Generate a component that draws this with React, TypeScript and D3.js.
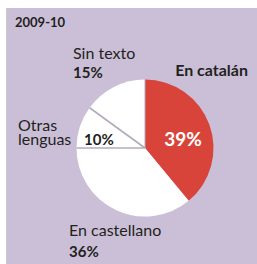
import React from "react";
import * as d3 from "d3";

const title = "2009-10";
const categories = ["En catalán", "En castellano", "Otras lenguas", "Sin texto"];
const values = [39, 36, 10, 15];
const colors = ["#d9443a", "#ffffff", "#ffffff", "#ffffff"];

export default function App() {
  const W = 257, H = 264;
  const cx = 145, cy = 148, r = 68.5;
  const pie = d3.pie<number>().sort(null).value((d) => d)(values);
  const arc = d3.arc<d3.PieArcDatum<number>>().innerRadius(0).outerRadius(r);
  const font = "Lato, 'Open Sans', sans-serif";
  const ink = "#231f20";
  return (
    <svg width={W} height={H} style={{ position: "absolute", left: 0, top: 0 }} fontFamily={font}>
      <rect x={0} y={0} width={W} height={H} fill="#ffffff" />
      <rect x={7} y={8} width={W - 7} height={H - 8} fill="#cbbfd8" />
      <line x1={6.5} y1={8} x2={6.5} y2={H} stroke="#c8c8c8" strokeWidth={1} />
      <text x={15} y={27} fontSize={13} fontWeight={700} fill={ink}>{title}</text>
      <g transform={`translate(${cx},${cy})`}>
        {pie.map((p, i) => (
          <path key={i} d={arc(p) || ""} fill={colors[i]} />
        ))}
        {pie.map((p, i) => {
          if (i === 0 || i === 1) return null;
          const a = p.startAngle;
          return (
            <line key={"l" + i} x1={0} y1={0} x2={r * Math.sin(a)} y2={-r * Math.cos(a)} stroke="#b3aabb" strokeWidth={1.6} />
          );
        })}
        <line x1={0} y1={0} x2={0} y2={-r} stroke="#b3aabb" strokeWidth={1} />
      </g>
      <text x={73} y={58.5} fontSize={16} fill={ink}>Sin texto</text>
      <text x={73} y={77.5} fontSize={15} fontWeight={700} fill={ink}>{values[3]}%</text>
      <text x={248} y={76} fontSize={16} fontWeight={700} fill={ink} textAnchor="end">{categories[0]}</text>
      <text x={18} y={130.5} fontSize={16} fill={ink}>Otras</text>
      <text x={18} y={144.5} fontSize={16} fill={ink}>lenguas</text>
      <text x={84} y={144.5} fontSize={15} fontWeight={700} fill={ink}>{values[2]}%</text>
      <text x={183} y={146} fontSize={19} fontWeight={700} fill="#ffffff" textAnchor="middle">{values[0]}%</text>
      <text x={69} y={235.5} fontSize={16} fill={ink}>{categories[1]}</text>
      <text x={69} y={256.5} fontSize={15} fontWeight={700} fill={ink}>{values[1]}%</text>
    </svg>
  );
}
